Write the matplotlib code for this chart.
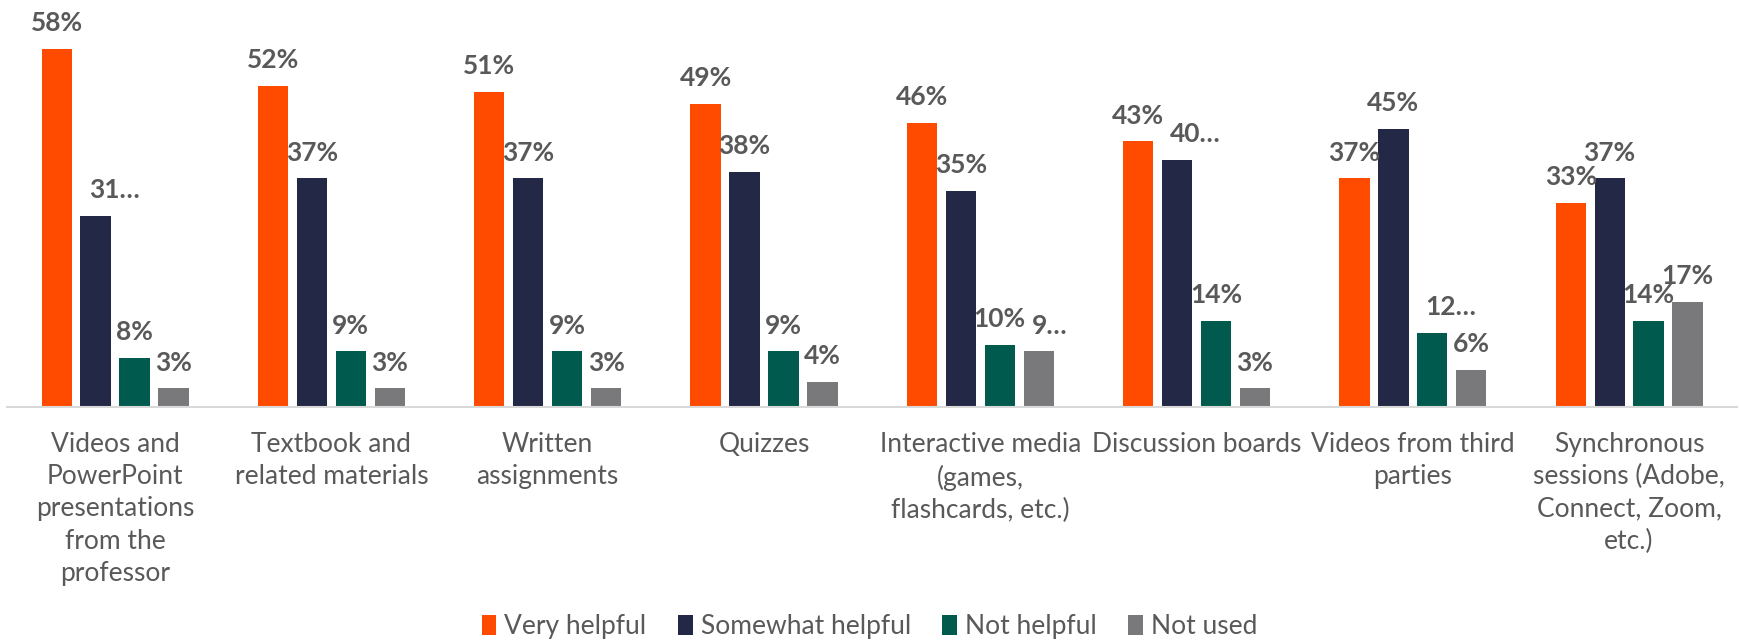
import matplotlib.pyplot as plt
import numpy as np

plt.rcParams['font.family'] = ['Lato', 'DejaVu Sans']

categories = ['Videos and\nPowerPoint\npresentations\nfrom the\nprofessor',
              'Textbook and\nrelated materials',
              'Written\nassignments',
              'Quizzes',
              'Interactive media\n(games,\nflashcards, etc.)',
              'Discussion boards',
              'Videos from third\nparties',
              'Synchronous\nsessions (Adobe,\nConnect, Zoom,\netc.)']
series = ['Very helpful', 'Somewhat helpful', 'Not helpful', 'Not used']
very_helpful = [58, 52, 51, 49, 46, 43, 37, 33]
somewhat_helpful = [31, 37, 37, 38, 35, 40, 45, 37]
not_helpful = [8, 9, 9, 9, 10, 14, 12, 14]
not_used = [3, 3, 3, 4, 9, 3, 6, 17]
# labels that the original chart cut short: (series index, category index)
truncated = [(1, 0), (1, 5), (2, 6), (3, 4)]

colors = ['#FF4B00', '#222845', '#005B4E', '#79797B']
text_col = '#595959'

values = [very_helpful, somewhat_helpful, not_helpful, not_used]
x = np.arange(len(categories))
step = 0.18
width = 0.14

fig = plt.figure(figsize=(17.39, 6.42), dpi=100)
ax = fig.add_axes([0.004, 0.366, 0.995, 0.634])

for s, vals in enumerate(values):
    pos = x + (s - 1.5) * step
    bars = ax.bar(pos, vals, width, color=colors[s], label=series[s])
    for i, (p, v) in enumerate(zip(pos, vals)):
        if (s, i) in truncated:
            # excel cut these short, text starts a bit left of the bar centre
            ax.annotate(f'{v}\u2026', (p, v), xytext=(-5, 10), textcoords='offset points',
                        ha='left', va='bottom', fontsize=19, fontweight='bold',
                        color=text_col)
        else:
            ax.annotate(f'{v}%', (p, v), xytext=(0, 10), textcoords='offset points',
                        ha='center', va='bottom', fontsize=19, fontweight='bold',
                        color=text_col)

ax.set_xlim(-0.5, 7.5)
ax.set_ylim(0, 65.9)
ax.set_xticks(x)
ax.set_xticklabels(categories, fontsize=19, color=text_col, linespacing=1.36)
ax.tick_params(axis='x', length=0, pad=18)
ax.set_yticks([])
for sp in ['top', 'right', 'left']:
    ax.spines[sp].set_visible(False)
ax.spines['bottom'].set_color('#D9D9D9')
ax.spines['bottom'].set_linewidth(1.5)

ax.legend(loc='lower center', bbox_to_anchor=(0.5, -0.012), bbox_transform=fig.transFigure,
          ncol=4, frameon=False, fontsize=19, labelcolor=text_col,
          handlelength=0.55, handleheight=0.8, handletextpad=0.3, columnspacing=1.2,
          borderaxespad=0.0)

fig.savefig('out.png', dpi=100)
